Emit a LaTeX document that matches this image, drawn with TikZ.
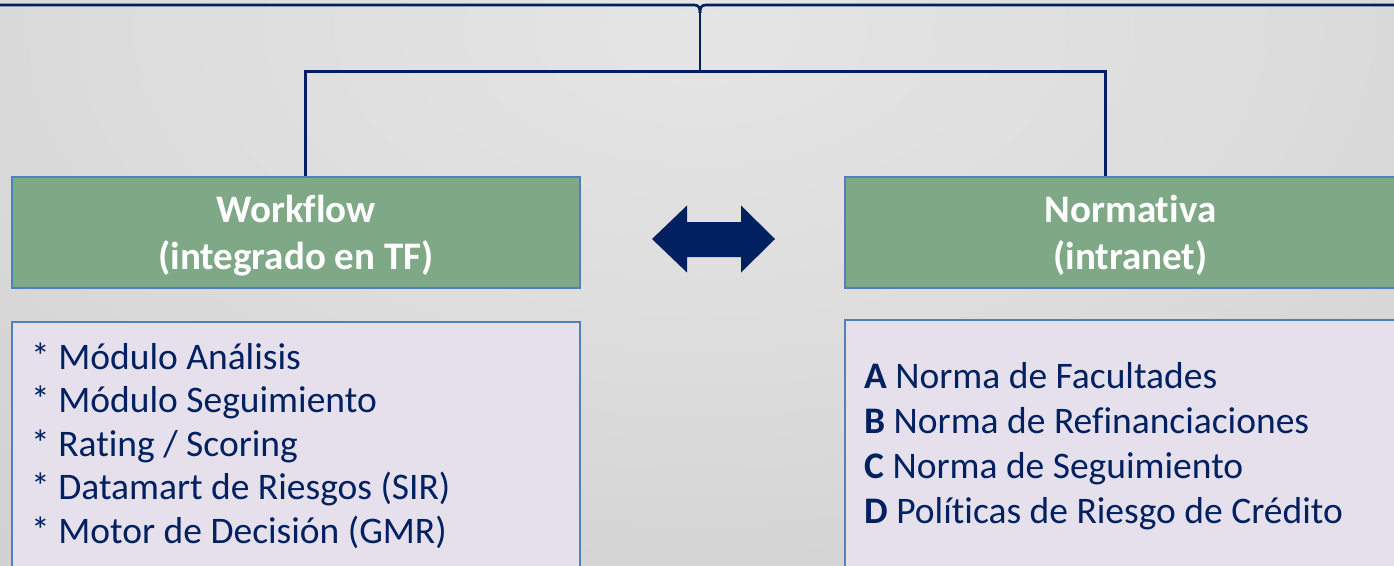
\documentclass[tikz,border=0pt]{standalone}
\usepackage{fontspec}
\setmainfont{Carlito}[Ligatures={NoCommon}]
\newcommand{\tisep}{\kern0pt }
\definecolor{navy}{HTML}{002060}
\definecolor{boxedge}{HTML}{4F81BD}
\definecolor{titlefill}{HTML}{7FA986}
\definecolor{listfill}{HTML}{E6E0EC}
\definecolor{bgA}{HTML}{E5E5E5}
\definecolor{bgB}{HTML}{DCDCDC}
\definecolor{bgC}{HTML}{D2D2D2}
\definecolor{bgD}{HTML}{CECECE}
\definecolor{bgE}{HTML}{C8C8C8}
\definecolor{bgF}{HTML}{C1C1C1}
\definecolor{bgG}{HTML}{ABABAB}
\pgfdeclareradialshading{bgglow}{\pgfpoint{0bp}{0bp}}{%
  color(0bp)=(bgA); color(15bp)=(bgB); color(27bp)=(bgC); color(35bp)=(bgD);
  color(43bp)=(bgE); color(49bp)=(bgF); color(62bp)=(bgG); color(72bp)=(bgG)}
\tikzset{
  titlebox/.style={draw=boxedge, line width=1.4pt, fill=titlefill, inner sep=0pt},
  listbox/.style={draw=boxedge, line width=1.4pt, fill=listfill, inner sep=0pt},
  titletext/.style={text=white, inner sep=0pt, anchor=base,
    font={\fontsize{39}{46}\selectfont\bfseries}},
  listtext/.style={text=navy, inner sep=0pt, anchor=base west,
    font={\fontsize{37.5}{44}\selectfont}},
  conn/.style={draw=navy, line width=3pt},
  linkarrow/.style={fill=navy},
}
\begin{document}
\begin{tikzpicture}[x=1pt, y=-1pt]
  \useasboundingbox (0,0) rectangle (1394,565);
  \clip (0,0) rectangle (1394,565);
  % backdrop: light glow near the top centre, darker towards the corners
  \fill[bgG] (0,0) rectangle (1394,565);
  \shade[shading=bgglow] (-300,-540) rectangle (1700,600);

  % boxes
  \node[titlebox, minimum width=568pt, minimum height=111pt] (wf) at (296,232.5) {};
  \node[titlebox, minimum width=571pt, minimum height=111pt] (nv) at (1130.5,232.5) {};
  \node[listbox, minimum width=568pt, minimum height=290pt] (wl) at (296,467) {};
  \node[listbox, minimum width=571pt, minimum height=290pt] (nl) at (1130.5,465) {};

  % box titles
  \node[titletext] (wf1) at (296,222) {Workflow};
  \node[titletext] (wf2) at (296,269) {(integrado en TF)};
  \node[titletext] (nv1) at (1130.5,222) {Normat\tisep iva};
  \node[titletext] (nv2) at (1130.5,269) {(intranet)};

  % workflow list
  \node[listtext] (w1) at (31,369) {* Módulo Análisis};
  \node[listtext] (w2) at (31,412.5) {* Módulo Seguimiento};
  \node[listtext] (w3) at (31,456) {* Rating / Scoring};
  \node[listtext] (w4) at (31,499.5) {* Datamart de Riesgos (SIR)};
  \node[listtext] (w5) at (31,543) {* Motor de Decisión (GMR)};

  % normativa list
  \node[listtext] (n1) at (864,388) {\textbf{A} Norma de Facultades};
  \node[listtext] (n2) at (864,433) {\textbf{B} Norma de Refinanciaciones};
  \node[listtext] (n3) at (864,478) {\textbf{C} Norma de Seguimiento};
  \node[listtext] (n4) at (864,523) {\textbf{D} Polít\tisep icas de Riesgo de Crédito};

  % brace and tree connectors
  \coordinate (topL) at (0,5);
  \coordinate (topR) at (1394,5);
  \coordinate (hub) at (700,13);
  \coordinate (jl) at (305,71);
  \coordinate (jr) at (1105,71);
  \draw[conn, line width=2.6pt] (topL) -- (694,5) .. controls (699,5) and (700,8) .. (hub);
  \draw[conn, line width=2.6pt] (topR) -- (706,5) .. controls (701,5) and (700,8) .. (hub);
  \draw[conn, line width=2.6pt] (hub) -- (hub |- jl);
  \draw[conn, line join=miter] (jl |- wf.north) -- (jl) -- (jr) -- (jr |- nv.north);

  % two-way link between the panels
  \fill[linkarrow] (652,239) -- (687,205.5) -- (687,222) -- (741,222) -- (741,205.5)
    -- (775,239) -- (741,272.5) -- (741,257) -- (687,257) -- (687,272.5) -- cycle;
\end{tikzpicture}
\end{document}
